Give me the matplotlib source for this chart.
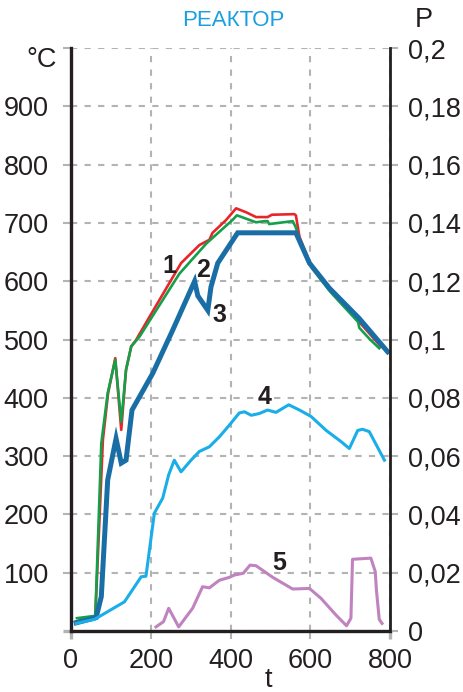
import matplotlib
matplotlib.use("Agg")
from matplotlib import pyplot as plt

plt.rcParams['font.family'] = ['Liberation Sans', 'DejaVu Sans']

# curve 1 (red), 2 (green), 3 (dark blue) - temperature, left axis
t1 = [11, 61, 80, 93, 111, 126, 138, 151, 163, 197, 276, 322, 347, 355, 389, 414, 440, 464, 493, 504, 560, 564, 573, 600, 650, 723, 777]
T1 = [16, 26, 328, 408, 468, 345, 448, 488, 499, 539, 631, 662, 671, 683, 705, 725, 718, 710, 710, 714, 715, 713, 676, 630, 585, 530, 488]

t2 = [15, 61, 76, 92, 111, 126, 138, 151, 172, 272, 340, 405, 416, 440, 464, 485, 493, 497, 556, 564, 573, 600, 605, 650, 720, 723, 750, 773]
T2 = [22, 26, 322, 408, 465, 359, 448, 488, 505, 613, 665, 705, 713, 707, 701, 703, 703, 698, 703, 692, 670, 630, 622, 582, 530, 520, 500, 485]

t3 = [13, 63, 76, 92, 113, 126, 138, 153, 205, 255, 310, 318, 343, 351, 368, 418, 564, 598, 648, 723, 794]
T3 = [14, 23, 59, 259, 330, 288, 293, 379, 442, 516, 600, 575, 550, 590, 631, 683, 683, 631, 588, 536, 479]

# curve 4 (light blue), 5 (pink) - P, right axis
t4 = [13, 59, 134, 176, 188, 209, 230, 245, 259, 276, 301, 322, 347, 372, 397, 422, 435, 452, 472, 493, 514, 546, 573, 602, 640, 677, 698, 719, 731, 748, 786]
P4 = [0.0026, 0.004, 0.010, 0.0186, 0.0188, 0.0404, 0.0456, 0.0536, 0.0586, 0.0546, 0.0586, 0.0616, 0.0632, 0.0666, 0.0706, 0.0748,
      0.0752, 0.074, 0.0746, 0.0758, 0.075, 0.0776, 0.0758, 0.0736, 0.0688, 0.065, 0.0626, 0.0688, 0.0692, 0.0684, 0.0586]

t5 = [213, 232, 245, 270, 305, 330, 347, 372, 397, 410, 432, 449, 464, 506, 556, 598, 627, 665, 691, 702, 706, 752, 763, 766, 773, 780]
P5 = [0.0014, 0.0032, 0.0078, 0.0014, 0.0078, 0.0152, 0.0148, 0.0174, 0.0184, 0.0192, 0.0198, 0.0226, 0.0224, 0.0184, 0.0144, 0.0146,
      0.0112, 0.0054, 0.0018, 0.0044, 0.0246, 0.025, 0.0204, 0.014, 0.004, 0.0026]

left_ticks = [100, 200, 300, 400, 500, 600, 700, 800, 900]
right_ticks = [0, 0.02, 0.04, 0.06, 0.08, 0.1, 0.12, 0.14, 0.16, 0.18, 0.2]
right_labels = ['0', '0,02', '0,04', '0,06', '0,08', '0,1', '0,12', '0,14', '0,16', '0,18', '0,2']
x_ticks = [0, 200, 400, 600, 800]

txt = '#231f20'
grid_c = '#b3b3b3'
fs = 19.5

fig = plt.figure(figsize=(4.63, 6.92), dpi=100)
ax = fig.add_axes([71 / 463, 61 / 692, 319 / 463, 583 / 692])
ax2 = ax.twinx()

ax.plot(t1, T1, color='#e8262a', lw=1.9, zorder=3)
ax.plot(t2, T2, color='#14a04a', lw=1.9, zorder=4)
ax.plot(t3, T3, color='#1a6ea6', lw=3.6, zorder=5, solid_joinstyle='miter')
ax2.plot(t4, P4, color='#1aaee8', lw=2.2)
ax2.plot(t5, P5, color='#c083c0', lw=2.2)

ax.set_xlim(0, 800)
ax.set_ylim(0, 1000)
ax2.set_ylim(0, 0.2)

ax.set_xticks(x_ticks)
ax.set_yticks([0] + left_ticks + [1000])
ax.set_yticklabels([''] + [str(v) for v in left_ticks] + [''])
ax2.set_yticks(right_ticks)
ax2.set_yticklabels(right_labels)

ax.grid(True, color=grid_c, ls=(0, (3, 3.5)), lw=1.5)
ax.tick_params(axis='both', direction='out', length=6, width=1.5, color=grid_c,
               labelsize=fs, labelcolor=txt)
ax.tick_params(axis='x', pad=6)
ax.tick_params(axis='y', pad=10)
ax2.tick_params(axis='y', direction='out', length=6, width=1.5, color=grid_c,
                labelsize=fs, labelcolor=txt, pad=7)

# black ticks where the frame lines run out
for tk in (ax.xaxis.get_major_ticks()[0], ax.xaxis.get_major_ticks()[-1], ax.yaxis.get_major_ticks()[0]):
    tk.tick1line.set_color(txt)
    tk.tick1line.set_markeredgewidth(2.4)

for a in (ax, ax2):
    a.spines['top'].set_visible(False)
    a.set_facecolor('none')
ax2.spines['left'].set_visible(False)
ax2.spines['bottom'].set_visible(False)
ax.spines['right'].set_visible(False)
ax.spines['left'].set_linewidth(2.4)
ax.spines['bottom'].set_linewidth(2.4)
ax2.spines['right'].set_linewidth(2.0)
for s in ('left', 'bottom'):
    ax.spines[s].set_color(txt)
ax2.spines['right'].set_color(txt)

# curve numbers
for lab, tx, ty in [('1', 246, 626), ('2', 330, 619), ('3', 372, 542), ('4', 485, 401), ('5', 522, 117)]:
    ax.text(tx, ty, lab, fontsize=18, fontweight='bold', color=txt, ha='center', va='center', zorder=6)

fig.text(233 / 463, 1 - 21 / 692, 'РЕАКТОР', color='#1a9fe0', fontsize=16, ha='center', va='center')
fig.text(424 / 463, 1 - 20 / 692, 'P', color=txt, fontsize=fs, ha='center', va='center')
fig.text(42 / 463, 1 - 60 / 692, '°C', color=txt, fontsize=fs, ha='center', va='center')
fig.text(268 / 463, 1 - 680 / 692, 't', color=txt, fontsize=fs, ha='center', va='center')

fig.savefig('out.png', dpi=100)
